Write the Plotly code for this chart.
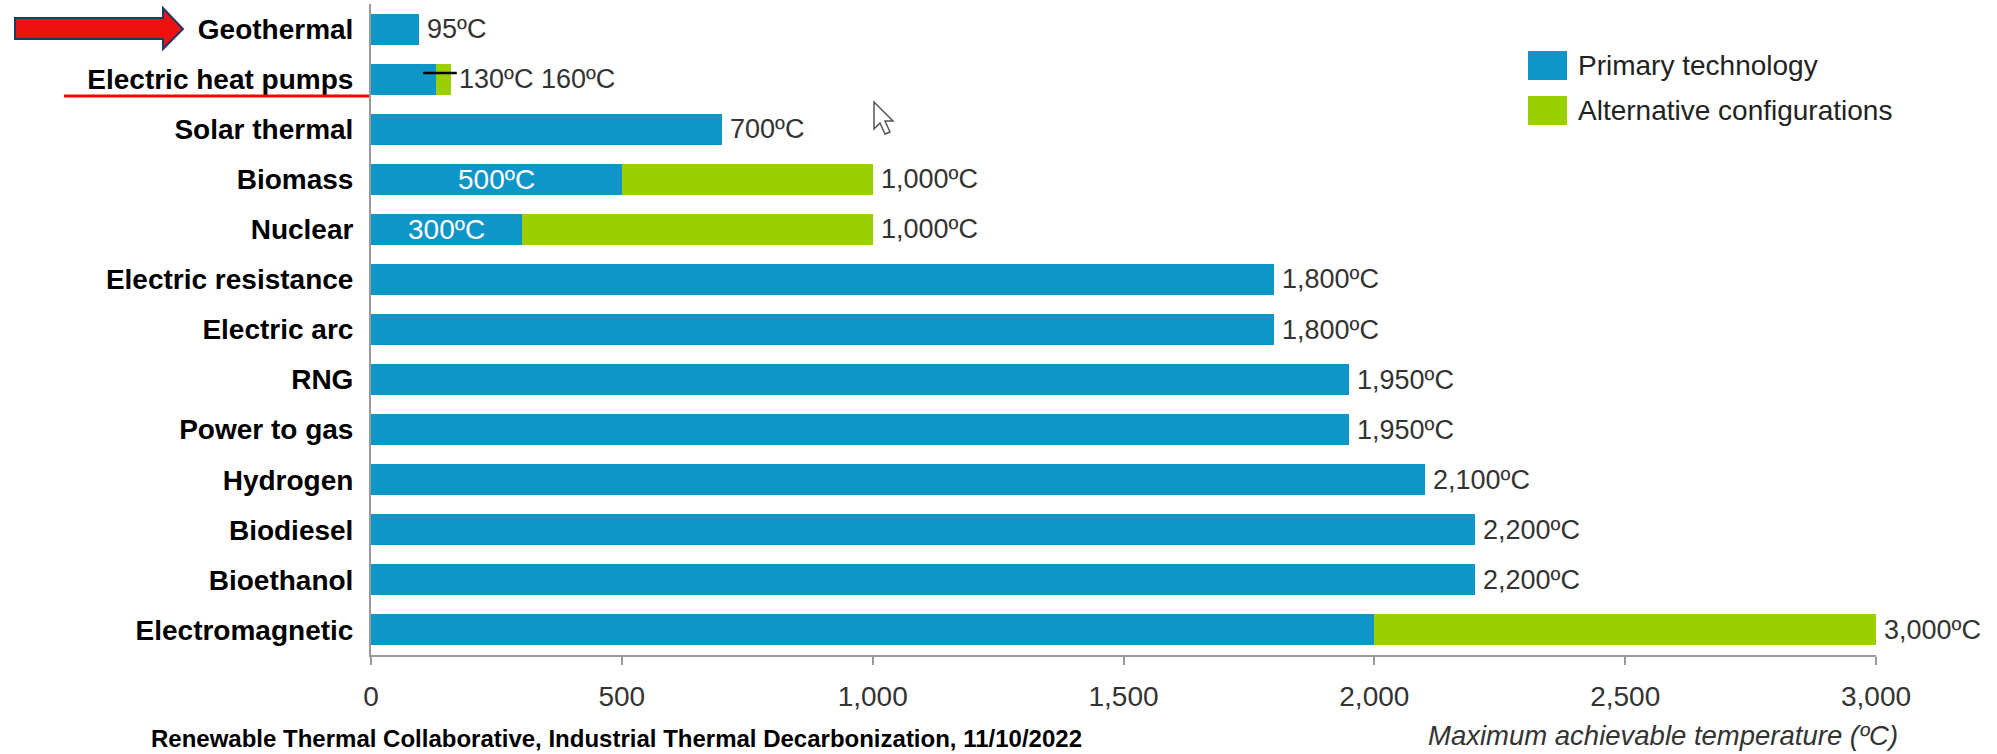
import plotly.graph_objects as go

# Technologies, top to bottom
technologies = [
    "Geothermal", "Electric heat pumps", "Solar thermal", "Biomass", "Nuclear",
    "Electric resistance", "Electric arc", "RNG", "Power to gas", "Hydrogen",
    "Biodiesel", "Bioethanol", "Electromagnetic",
]
# Maximum temperature of the primary technology (ºC)
primary_temp = [95, 130, 700, 500, 300, 1800, 1800, 1950, 1950, 2100, 2200, 2200, 2000]
# Maximum temperature reached with alternative configurations (ºC); None = no alternative
alternative_temp = [None, 160, None, 1000, 1000, None, None, None, None, None, None, None, 3000]
# Rows whose primary value is also written inside the bar
inside_label_rows = ["Biomass", "Nuclear"]
x_ticks = [0, 500, 1000, 1500, 2000, 2500, 3000]

BLUE = "#0e96c9"
GREEN = "#9ccf00"
FONT = "Liberation Sans"
GREY_TXT = "#333333"
AXIS_GREY = "#9a9a9a"

W, H = 1997, 754
L, R, T, B = 371, 121, 4, 99
PW, PH = W - L - R, H - T - B


def px(x):
    return (x - L) / PW


def py(y):
    return (H - B - y) / PH


alt_extra = [(a - p) if a is not None else 0 for p, a in zip(primary_temp, alternative_temp)]

fig = go.Figure()
fig.add_trace(go.Bar(
    y=technologies, x=primary_temp, orientation="h", name="Primary technology",
    marker=dict(color=BLUE, line=dict(width=0)), showlegend=False, hoverinfo="skip",
))
fig.add_trace(go.Bar(
    y=technologies, x=alt_extra, base=primary_temp, orientation="h",
    name="Alternative configurations",
    marker=dict(color=GREEN, line=dict(width=0)), showlegend=False, hoverinfo="skip",
))

annotations = []
# end-of-bar value labels
for tech, p, a in zip(technologies, primary_temp, alternative_temp):
    if tech == "Electric heat pumps":
        txt = f"{p:,}ºC {a:,}ºC"
    else:
        txt = f"{(a if a is not None else p):,}ºC"
    annotations.append(dict(
        x=a if a is not None else p, y=tech, xref="x", yref="y", text=txt,
        xanchor="left", yanchor="middle", xshift=6, showarrow=False,
        font=dict(family=FONT, size=27, color=GREY_TXT),
    ))
# primary value written inside the blue segment
for tech, p in zip(technologies, primary_temp):
    if tech in inside_label_rows:
        annotations.append(dict(
            x=p / 2, y=tech, xref="x", yref="y", text=f"{p:,}ºC",
            xanchor="center", yanchor="middle", showarrow=False,
            font=dict(family=FONT, size=28, color="white"),
        ))

# axis title and source note
annotations.append(dict(
    x=px(1900), y=py(735), xref="paper", yref="paper",
    text="Maximum achievable temperature (ºC)", xanchor="right", yanchor="middle",
    showarrow=False, font=dict(family=FONT, size=27.5, color=GREY_TXT, style="italic"),
))
annotations.append(dict(
    x=px(149), y=py(739), xref="paper", yref="paper",
    text="Renewable Thermal Collaborative, Industrial Thermal Decarbonization, 11/10/2022",
    xanchor="left", yanchor="middle", showarrow=False,
    font=dict(family=FONT, size=24, color="black", weight="bold"),
))

# legend
legend_items = [("Primary technology", BLUE), ("Alternative configurations", GREEN)]
shapes = []
for i, (label, col) in enumerate(legend_items):
    top = 51 + i * 45
    shapes.append(dict(type="rect", xref="paper", yref="paper",
                       x0=px(1528), x1=px(1567), y0=py(top), y1=py(top + 29),
                       fillcolor=col, line=dict(width=0)))
    annotations.append(dict(
        x=px(1576), y=py(top + 14.5), xref="paper", yref="paper", text=label,
        xanchor="left", yanchor="middle", showarrow=False,
        font=dict(family=FONT, size=28, color="#222222"),
    ))

# marker line across the heat-pump bar boundary
hp = technologies.index("Electric heat pumps")
shapes.append(dict(type="line", xref="x", yref="y",
                   x0=primary_temp[hp] - 26, x1=alternative_temp[hp] + 11,
                   y0=hp - 0.12, y1=hp - 0.12, line=dict(color="black", width=2.5)))

# red highlight arrow and underline
arrow = [(15, 18), (163, 18), (163, 8), (183, 29), (163, 49), (163, 39), (15, 39)]
path = "M " + " L ".join(f"{px(x):.5f},{py(y):.5f}" for x, y in arrow) + " Z"
shapes.append(dict(type="path", xref="paper", yref="paper", path=path,
                   fillcolor="#ee1111", line=dict(color="#1f3864", width=2)))
shapes.append(dict(type="line", xref="paper", yref="paper",
                   x0=px(64), x1=px(369), y0=py(96), y1=py(96),
                   line=dict(color="#ff0000", width=3)))

# mouse pointer
ptr = [(0, 0), (0, 27), (6, 21), (11, 32), (16, 30), (11, 19), (19, 19)]
ox, oy = 874, 102
path = "M " + " L ".join(f"{px(ox + x):.5f},{py(oy + y):.5f}" for x, y in ptr) + " Z"
shapes.append(dict(type="path", xref="paper", yref="paper", path=path,
                   fillcolor="white", line=dict(color="#555555", width=1.5)))

fig.update_layout(
    width=W, height=H, barmode="stack", bargap=0.38,
    margin=dict(l=L, r=R, t=T, b=B),
    paper_bgcolor="white", plot_bgcolor="white",
    annotations=annotations, shapes=shapes,
    font=dict(family=FONT, color=GREY_TXT),
)
fig.update_yaxes(
    categoryorder="array", categoryarray=technologies, range=[len(technologies) - 0.5, -0.5],
    showline=True, linecolor=AXIS_GREY, linewidth=2, ticks="", showgrid=False,
    tickfont=dict(family=FONT, size=28, color="black", weight="bold"),
    ticklabelstandoff=10, zeroline=False,
)
fig.update_xaxes(
    range=[0, 3000], tickvals=x_ticks, tickformat=",d",
    showline=True, linecolor=AXIS_GREY, linewidth=2,
    ticks="outside", ticklen=8, tickcolor=AXIS_GREY, tickwidth=2,
    showgrid=False, zeroline=False,
    tickfont=dict(family=FONT, size=28, color=GREY_TXT), ticklabelstandoff=7,
)

fig.write_html("out.html")
